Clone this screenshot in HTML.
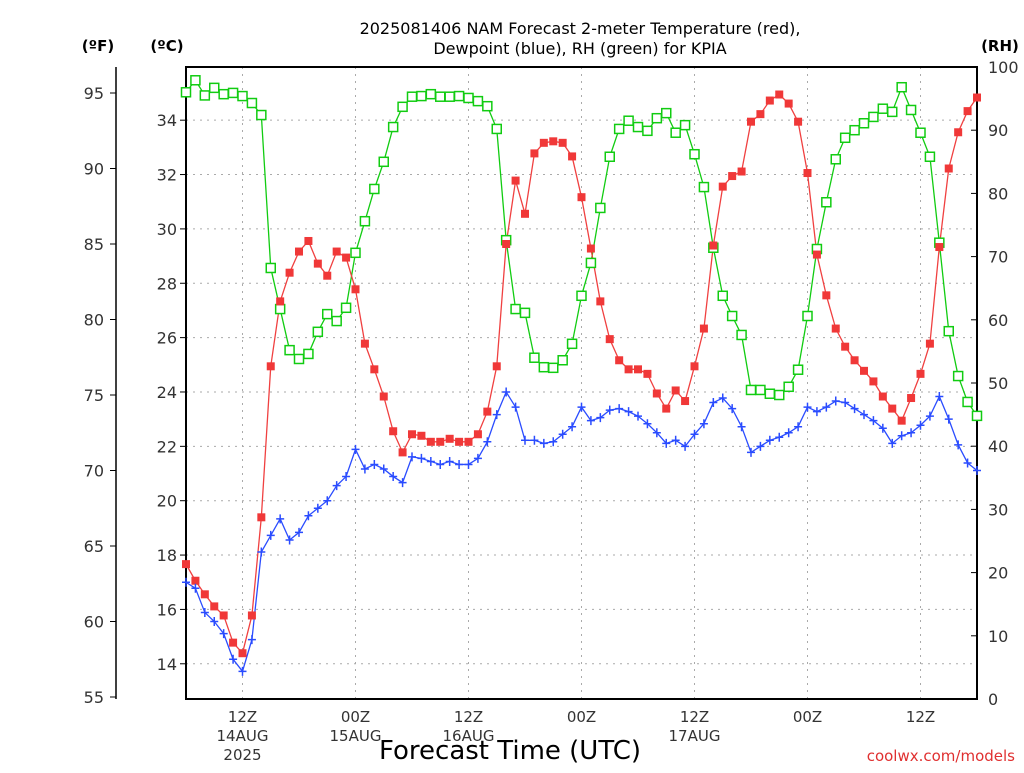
<!DOCTYPE html>
<html><head><meta charset="utf-8"><style>
body{margin:0;background:#fff}
svg text{font-family:"DejaVu Sans","Liberation Sans",sans-serif}
</style></head><body>
<svg id="c" width="1024" height="768" viewBox="0 0 1024 768" xmlns="http://www.w3.org/2000/svg">
<text x="580" y="34" text-anchor="middle" font-size="16">2025081406 NAM Forecast 2-meter Temperature (red),</text>
<text x="580" y="54" text-anchor="middle" font-size="16">Dewpoint (blue), RH (green) for KPIA</text>
<text x="98" y="51" text-anchor="middle" font-size="15" font-weight="bold">(ºF)</text>
<text x="167" y="51" text-anchor="middle" font-size="15" font-weight="bold">(ºC)</text>
<text x="1000" y="51" text-anchor="middle" font-size="15" font-weight="bold">(RH)</text>
<text x="510" y="759" text-anchor="middle" font-size="26">Forecast Time (UTC)</text>
<text x="1015" y="761" text-anchor="end" font-size="15" fill="#e03030">coolwx.com/models</text>
<g id="grid"></g><g id="axes"></g><g id="series"></g>
</svg>
<script>
const hours = [];
for (let h = 0; h <= 84; h++) hours.push(h);
const tempF = [63.8,62.7,61.8,61.0,60.4,58.6,57.9,60.4,66.9,76.9,81.2,83.1,84.5,85.2,83.7,82.9,84.5,84.1,82.0,78.4,76.7,74.9,
72.6,71.2,72.4,72.3,71.9,71.9,72.1,71.9,71.9,72.4,73.9,76.9,85.0,89.2,87.0,91.0,91.7,91.8,91.7,90.8,88.1,
84.7,81.2,78.7,77.3,76.7,76.7,76.4,75.1,74.1,75.3,74.6,76.9,79.4,84.9,88.8,89.5,89.8,93.1,93.6,94.5,
94.9,94.3,93.1,89.7,84.3,81.6,79.4,78.2,77.3,76.6,75.9,74.9,74.1,73.3,74.8,76.4,78.4,84.8,90.0,92.4,93.8,94.7];
const dewF = [62.6,62.2,60.6,60.0,59.2,57.5,56.7,58.8,64.6,65.7,66.8,65.4,65.9,67.0,67.5,68.0,69.0,69.6,71.4,70.1,70.4,70.1,
69.6,69.2,70.9,70.8,70.6,70.4,70.6,70.4,70.4,70.8,71.9,73.7,75.2,74.2,72.0,72.0,71.8,71.9,72.4,72.9,74.2,
73.3,73.5,74.0,74.1,73.9,73.6,73.1,72.5,71.8,72.0,71.6,72.4,73.1,74.5,74.8,74.1,72.9,71.2,71.6,72.0,
72.2,72.5,72.9,74.2,73.9,74.2,74.6,74.5,74.1,73.7,73.3,72.8,71.8,72.3,72.5,73.0,73.6,74.9,73.4,71.7,70.5,70.0];
const rh = [96.0,97.9,95.5,96.7,95.7,95.9,95.4,94.3,92.4,68.2,61.7,55.2,53.8,54.6,58.1,60.9,59.8,61.9,70.6,75.6,80.7,85.0,
90.5,93.7,95.3,95.4,95.7,95.3,95.3,95.4,95.1,94.6,93.8,90.2,72.6,61.7,61.1,54.0,52.5,52.4,53.6,56.2,63.8,
69.0,77.7,85.8,90.2,91.5,90.5,89.9,91.9,92.7,89.6,90.8,86.2,81.0,71.4,63.8,60.6,57.6,48.9,48.9,48.3,
48.1,49.4,52.1,60.6,71.2,78.6,85.4,88.8,90.0,91.1,92.1,93.4,92.9,96.8,93.2,89.6,85.8,72.2,58.2,51.1,47.0,44.8];
const fTicks = [55,60,65,70,75,80,85,90,95];
const cTicks = [14,16,18,20,22,24,26,28,30,32,34];
const rhTicks = [0,10,20,30,40,50,60,70,80,90,100];
const timeTicks = [6,18,30,42,54,66,78];
const timeLabels = ["12Z","00Z","12Z","00Z","12Z","00Z","12Z"];
const dateLabels = ["14AUG","15AUG","16AUG","","17AUG","",""];
const yearLabels = ["2025","","","","","",""];

const L=186,R=977,T=67,B=699;
const xS = h => L + h*(R-L)/84;
const yF = f => 697 - (f-55)*15.1;
const yC = c => yF(c*9/5+32);
const yRH = r => B - r*(B-T)/100;
const NS="http://www.w3.org/2000/svg";
function mk(tag, attrs, parent){const e=document.createElementNS(NS,tag);for(const k in attrs)e.setAttribute(k,attrs[k]);parent.appendChild(e);return e;}
const grid=document.getElementById('grid'),axes=document.getElementById('axes'),ser=document.getElementById('series');

cTicks.forEach(c=>{const y=yC(c);
 const g=mk('line',{x1:L,x2:R,y1:y,y2:y,stroke:'#aaa','stroke-dasharray':'2,5'},grid);
 
 
 const t=mk('line',{x1:L-6,x2:L,y1:y,y2:y,stroke:'#000'},axes);
 
 
 const tx=mk('text',{x:L-9,y:y+6,'text-anchor':'end','font-size':'16',fill:'#333'},axes);tx.textContent=c;
 
 
});
timeTicks.forEach((h,i)=>{const x=xS(h);
 const g=mk('line',{x1:x,x2:x,y1:T,y2:B,stroke:'#aaa','stroke-dasharray':'2,5'},grid);
 
 
 [timeLabels[i],dateLabels[i],yearLabels[i]].forEach((s,j)=>{if(!s)return;
  const t=mk('text',{x:x,y:722+j*19,'text-anchor':'middle','font-size':'15',fill:'#333'},axes);t.textContent=s;
  
  
 });
});
const fl=mk('line',{x1:116,x2:116,y1:T,y2:B,stroke:'#000','stroke-width':1.5},axes);


fTicks.forEach(f=>{const y=yF(f);
 const t=mk('line',{x1:110,x2:116,y1:y,y2:y,stroke:'#000'},axes);
 
 
 const tx=mk('text',{x:104,y:y+6,'text-anchor':'end','font-size':'16',fill:'#333'},axes);tx.textContent=f;
 
 
});
rhTicks.forEach(r=>{const y=yRH(r);
 const t=mk('line',{x1:R-6,x2:R,y1:y,y2:y,stroke:'#000'},axes);
 
 
 const tx=mk('text',{x:988,y:y+6,'font-size':'16',fill:'#333'},axes);tx.textContent=r;
 
 
});
const fr=mk('rect',{x:L,y:T,width:R-L,height:B-T,fill:'none',stroke:'#000','stroke-width':2},axes);



function line(vals,yf,color,name){
 const p=mk('polyline',{points:vals.map((v,i)=>xS(hours[i])+','+yf(v)).join(' '),fill:'none',stroke:color,'stroke-width':1.3},ser);
 
 
}
line(rh,yRH,'#11cc11','rh');
line(tempF,yF,'#f04040','temperature');
line(dewF,yF,'#2a4cff','dewpoint');
rh.forEach((v,i)=>{
 const m=mk('rect',{x:xS(hours[i])-4.5,y:yRH(v)-4.5,width:9,height:9,fill:'#fff',stroke:'#11cc11','stroke-width':1.5},ser);
 
 
});
tempF.forEach((v,i)=>{
 const m=mk('rect',{x:xS(hours[i])-4,y:yF(v)-4,width:8,height:8,fill:'#f03838'},ser);
 
 
});
dewF.forEach((v,i)=>{const x=xS(hours[i]),y=yF(v);
 const m=mk('path',{d:`M${x-4},${y}H${x+4}M${x},${y-4.5}V${y+4.5}`,stroke:'#2a4cff','stroke-width':1.5},ser);
 
 
});
</script>
</body></html>
